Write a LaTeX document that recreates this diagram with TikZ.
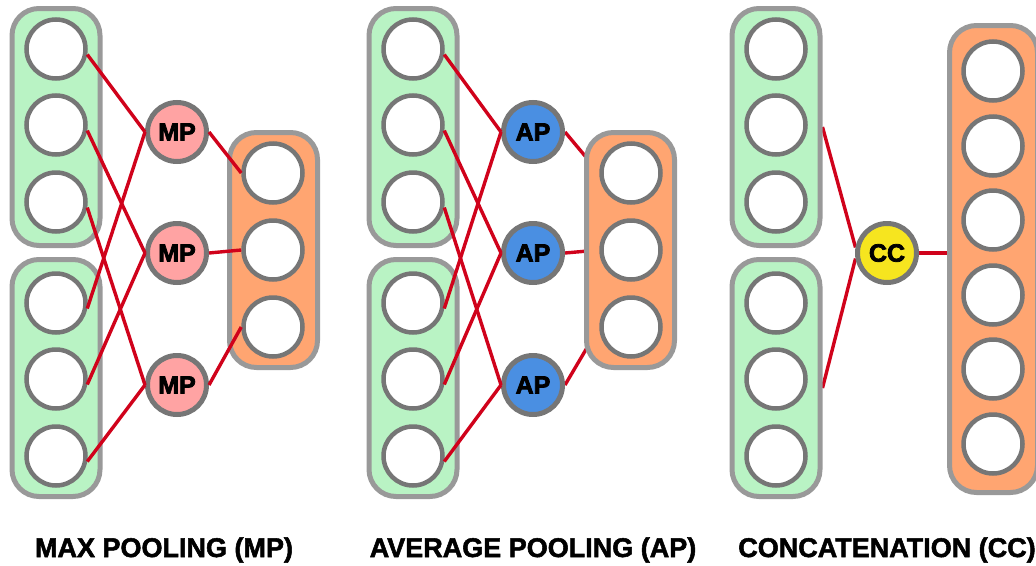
\documentclass[tikz,border=0pt]{standalone}
\usepackage{fontspec}
\usepackage{tikz}
\usepackage{xcolor}
\newfontfamily\heavy[FakeBold=2]{Liberation Sans Bold}
\newfontfamily\heavier[FakeBold=3]{Liberation Sans Bold}

\definecolor{ingreen}{HTML}{B9F3C4}
\definecolor{outorange}{HTML}{FFA571}
\definecolor{mppink}{HTML}{FFA3A3}
\definecolor{apblue}{HTML}{4A8FE2}
\definecolor{ccyellow}{HTML}{F6E51F}
\definecolor{grpgray}{HTML}{999999}
\definecolor{cellgray}{HTML}{767676}
\definecolor{wirered}{HTML}{D0021B}

\pgfdeclarelayer{under}
\pgfdeclarelayer{groups}
\pgfsetlayers{under,groups,main}

\begin{document}
\begin{tikzpicture}[x=1pt,y=-1pt,
    grp/.style={draw=grpgray,line width=5pt,rounded corners=27pt,inner sep=0pt,minimum width=88pt},
    cell/.style={circle,draw=cellgray,fill=white,line width=4.5pt,minimum size=59pt,inner sep=0pt},
    op/.style={circle,draw=cellgray,line width=5pt,minimum size=59pt,inner sep=0pt,
        font=\heavier\fontsize{25}{25}\selectfont},
    wire/.style={draw=wirered,line width=3.4pt},
    caption/.style={anchor=base,font=\heavy\fontsize{27}{30}\selectfont}]
    \useasboundingbox (0,0) rectangle (1036,565);

    % Max pooling: two input groups -> MP -> output group
    \begin{pgfonlayer}{groups}
        \node[grp,fill=ingreen,minimum height=237pt] (lg1) at (56,127) {};
        \node[grp,fill=ingreen,minimum height=237pt] (lg2) at (56,378) {};
        \node[grp,fill=outorange,minimum height=235pt] (lgo) at (273.5,250) {};
    \end{pgfonlayer}
    \foreach \y [count=\i] in {49,125,202} \node[cell] (la\i) at (56,\y) {};
    \foreach \y [count=\i] in {303,379,456} \node[cell] (lb\i) at (56,\y) {};
    \foreach \y [count=\i] in {132,253,385} \node[op,fill=mppink] (mp\i) at (177,\y) {MP};
    \foreach \y [count=\i] in {173,250,327} \node[cell] (lc\i) at (273,\y) {};
    \foreach \i in {1,2,3} {
        \draw[wire] (la\i.-10) -- (mp\i.west);
        \draw[wire] (lb\i.-10) -- (mp\i.west);
        \draw[wire] (mp\i.east) -- (lc\i.west);
    }

    % Average pooling: same wiring, AP outputs run under the output group
    \begin{pgfonlayer}{groups}
        \node[grp,fill=ingreen,minimum height=237pt] (mg1) at (413,127) {};
        \node[grp,fill=ingreen,minimum height=237pt] (mg2) at (413,378) {};
        \node[grp,fill=outorange,minimum height=235pt] (mgo) at (630.5,250) {};
    \end{pgfonlayer}
    \foreach \y [count=\i] in {49,125,202} \node[cell] (ma\i) at (413,\y) {};
    \foreach \y [count=\i] in {303,379,456} \node[cell] (mb\i) at (413,\y) {};
    \foreach \y [count=\i] in {132,253,385} \node[op,fill=apblue] (ap\i) at (533,\y) {AP};
    \foreach \y [count=\i] in {173,250,327} \node[cell] (mc\i) at (631,\y) {};
    \foreach \i in {1,2,3} {
        \draw[wire] (ma\i.-10) -- (ap\i.west);
        \draw[wire] (mb\i.-10) -- (ap\i.west);
        \begin{pgfonlayer}{under}
            \draw[wire] (ap\i.east) -- (mc\i.west);
        \end{pgfonlayer}
    }

    % Concatenation: both groups into CC, one long output group
    \begin{pgfonlayer}{groups}
        \node[grp,fill=ingreen,minimum height=237pt] (rg1) at (776,127) {};
        \node[grp,fill=ingreen,minimum height=237pt] (rg2) at (776,378) {};
        \node[grp,fill=outorange,minimum height=467pt] (rgo) at (993.5,259) {};
    \end{pgfonlayer}
    \foreach \y [count=\i] in {49,125,202} \node[cell] (ra\i) at (776,\y) {};
    \foreach \y [count=\i] in {303,379,456} \node[cell] (rb\i) at (776,\y) {};
    \node[op,fill=ccyellow] (cc) at (887,253) {CC};
    \foreach \y [count=\i] in {71,146,220,295,369,444} \node[cell] (rc\i) at (993,\y) {};
    \begin{pgfonlayer}{under}
        \draw[wire] (rg1.east) -- (cc.170);
        \draw[wire] ([yshift=-10pt]rg2.east) -- (cc.190);
        \draw[wire] (cc.east) -- (cc.east -| rgo.west);
    \end{pgfonlayer}

    % Captions
    \node[caption] (capmp) at (164,557) {MAX POOLING (MP)};
    \node[caption] (capap) at (533,557) {AVERAGE POOLING (AP)};
    \node[caption] (capcc) at (887,557) {CONCATENATION (CC)};
\end{tikzpicture}
\end{document}
